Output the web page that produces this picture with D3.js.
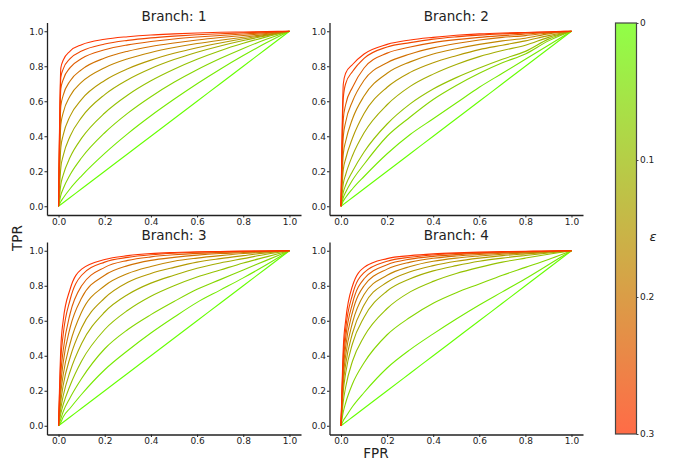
<!DOCTYPE html>
<html>
<head>
<meta charset="utf-8">
<script src="https://cdn.jsdelivr.net/npm/d3@7"></script>
<style>
  body { margin: 0; background: #fff; }
  svg text { font-family: "DejaVu Sans", sans-serif; fill: #222; }
</style>
</head>
<body>
<div id="chart"></div>
<script>
const width = 675;
const height = 461;

// false positive rate grid shared by every curve
const fpr = [0, 0.01, 0.02, 0.05, 0.1, 0.2, 0.3, 0.4, 0.5, 0.6, 0.7, 0.8, 0.9, 1];
const epsilons = [0, 0.03, 0.06, 0.09, 0.12, 0.15, 0.18, 0.21, 0.24, 0.27, 0.3];
const xTicks = [0, 0.2, 0.4, 0.6, 0.8, 1.0];
const yTicks = [0, 0.2, 0.4, 0.6, 0.8, 1.0];
const epsTicks = [0, 0.1, 0.2, 0.3];
const epsTickLabels = ["0", "0.1", "0.2", "0.3"];
const branchNames = ["1", "2", "3", "4"];

// TPR per epsilon (rows) at each fpr point
const branch1 = [
  [0, 0.01, 0.02, 0.05, 0.1, 0.2, 0.3, 0.4, 0.5, 0.6, 0.7, 0.8, 0.9, 1],
  [0, 0.027, 0.047, 0.10, 0.174, 0.302, 0.415, 0.517, 0.611, 0.70, 0.783, 0.861, 0.934, 1],
  [0, 0.064, 0.10, 0.18, 0.277, 0.42, 0.532, 0.626, 0.708, 0.78, 0.844, 0.902, 0.954, 1],
  [0, 0.125, 0.178, 0.28, 0.389, 0.533, 0.636, 0.717, 0.783, 0.84, 0.889, 0.931, 0.968, 1],
  [0, 0.222, 0.288, 0.40, 0.508, 0.638, 0.723, 0.787, 0.838, 0.88, 0.916, 0.947, 0.974, 1],
  [0, 0.337, 0.406, 0.515, 0.611, 0.719, 0.786, 0.835, 0.874, 0.906, 0.933, 0.957, 0.978, 1],
  [0, 0.468, 0.533, 0.63, 0.709, 0.792, 0.843, 0.879, 0.907, 0.93, 0.949, 0.966, 0.982, 1],
  [0, 0.573, 0.633, 0.716, 0.781, 0.847, 0.886, 0.913, 0.933, 0.95, 0.964, 0.976, 0.987, 1],
  [0, 0.672, 0.723, 0.792, 0.844, 0.894, 0.922, 0.941, 0.956, 0.967, 0.976, 0.984, 0.992, 1],
  [0, 0.738, 0.784, 0.844, 0.887, 0.927, 0.948, 0.962, 0.972, 0.98, 0.986, 0.991, 0.996, 1],
  [0, 0.791, 0.834, 0.887, 0.923, 0.954, 0.969, 0.979, 0.985, 0.99, 0.994, 0.996, 0.998, 1]
];
const branch2 = [
  [0, 0.01, 0.02, 0.05, 0.1, 0.2, 0.3, 0.4, 0.5, 0.6, 0.7, 0.8, 0.9, 1],
  [0, 0.03, 0.05, 0.10, 0.17, 0.30, 0.41, 0.50, 0.59, 0.68, 0.76, 0.84, 0.92, 1],
  [0, 0.05, 0.08, 0.15, 0.24, 0.40, 0.51, 0.61, 0.69, 0.76, 0.82, 0.87, 0.945, 1],
  [0, 0.08, 0.12, 0.20, 0.31, 0.47, 0.585, 0.67, 0.735, 0.79, 0.84, 0.885, 0.955, 1],
  [0, 0.13, 0.18, 0.29, 0.42, 0.58, 0.685, 0.755, 0.81, 0.855, 0.89, 0.92, 0.965, 1],
  [0, 0.21, 0.27, 0.39, 0.53, 0.68, 0.765, 0.82, 0.86, 0.895, 0.92, 0.945, 0.975, 1],
  [0, 0.30, 0.37, 0.50, 0.63, 0.76, 0.825, 0.87, 0.90, 0.925, 0.945, 0.96, 0.985, 1],
  [0, 0.40, 0.48, 0.60, 0.72, 0.82, 0.87, 0.905, 0.93, 0.95, 0.965, 0.975, 0.99, 1],
  [0, 0.50, 0.58, 0.68, 0.79, 0.875, 0.91, 0.935, 0.952, 0.965, 0.975, 0.984, 0.993, 1],
  [0, 0.62, 0.70, 0.77, 0.845, 0.91, 0.935, 0.955, 0.968, 0.978, 0.985, 0.99, 0.996, 1],
  [0, 0.70, 0.76, 0.81, 0.87, 0.925, 0.95, 0.965, 0.977, 0.985, 0.99, 0.993, 0.997, 1]
];
const branch3 = [
  [0, 0.01, 0.02, 0.05, 0.1, 0.2, 0.3, 0.4, 0.5, 0.6, 0.7, 0.8, 0.9, 1],
  [0, 0.02, 0.05, 0.10, 0.18, 0.32, 0.43, 0.53, 0.62, 0.705, 0.775, 0.845, 0.92, 1],
  [0, 0.04, 0.08, 0.16, 0.27, 0.44, 0.55, 0.635, 0.71, 0.78, 0.835, 0.89, 0.945, 1],
  [0, 0.07, 0.12, 0.23, 0.37, 0.55, 0.66, 0.74, 0.80, 0.85, 0.89, 0.93, 0.965, 1],
  [0, 0.10, 0.17, 0.31, 0.47, 0.65, 0.75, 0.815, 0.86, 0.90, 0.93, 0.955, 0.98, 1],
  [0, 0.14, 0.23, 0.39, 0.56, 0.73, 0.82, 0.87, 0.905, 0.935, 0.955, 0.972, 0.988, 1],
  [0, 0.19, 0.29, 0.47, 0.65, 0.80, 0.87, 0.91, 0.94, 0.958, 0.972, 0.984, 0.993, 1],
  [0, 0.24, 0.36, 0.56, 0.73, 0.86, 0.915, 0.945, 0.962, 0.975, 0.984, 0.99, 0.996, 1],
  [0, 0.30, 0.43, 0.64, 0.80, 0.905, 0.945, 0.965, 0.977, 0.985, 0.99, 0.994, 0.998, 1],
  [0, 0.38, 0.52, 0.72, 0.86, 0.935, 0.962, 0.977, 0.986, 0.991, 0.994, 0.997, 0.999, 1],
  [0, 0.45, 0.60, 0.78, 0.895, 0.95, 0.972, 0.984, 0.99, 0.994, 0.996, 0.998, 0.999, 1]
];
const branch4 = [
  [0, 0.01, 0.02, 0.05, 0.1, 0.2, 0.3, 0.4, 0.5, 0.6, 0.7, 0.8, 0.9, 1],
  [0, 0.03, 0.05, 0.11, 0.19, 0.33, 0.435, 0.525, 0.61, 0.69, 0.765, 0.84, 0.92, 1],
  [0, 0.08, 0.13, 0.24, 0.36, 0.52, 0.62, 0.70, 0.76, 0.81, 0.86, 0.905, 0.95, 1],
  [0, 0.14, 0.22, 0.37, 0.51, 0.67, 0.765, 0.825, 0.87, 0.905, 0.935, 0.958, 0.98, 1],
  [0, 0.20, 0.30, 0.47, 0.62, 0.77, 0.84, 0.885, 0.915, 0.94, 0.958, 0.973, 0.987, 1],
  [0, 0.24, 0.35, 0.53, 0.69, 0.82, 0.88, 0.915, 0.94, 0.958, 0.972, 0.982, 0.991, 1],
  [0, 0.28, 0.40, 0.59, 0.75, 0.86, 0.91, 0.94, 0.958, 0.97, 0.98, 0.988, 0.994, 1],
  [0, 0.32, 0.45, 0.65, 0.80, 0.895, 0.935, 0.957, 0.97, 0.979, 0.986, 0.992, 0.996, 1],
  [0, 0.36, 0.50, 0.70, 0.84, 0.92, 0.952, 0.968, 0.978, 0.985, 0.99, 0.994, 0.997, 1],
  [0, 0.40, 0.55, 0.75, 0.875, 0.94, 0.963, 0.976, 0.984, 0.989, 0.993, 0.996, 0.998, 1],
  [0, 0.45, 0.60, 0.80, 0.905, 0.955, 0.972, 0.982, 0.988, 0.992, 0.995, 0.997, 0.999, 1]
];
const branches = [branch1, branch2, branch3, branch4];

const svg = d3.select("#chart").append("svg")
    .attr("width", width)
    .attr("height", height);

// panel boxes (axes area incl. matplotlib margins)
const panels = [
  {left: 47, right: 301, top: 22.5, bottom: 215},
  {left: 329.5, right: 583, top: 22.5, bottom: 215},
  {left: 47, right: 301, top: 242, bottom: 434.5},
  {left: 329.5, right: 583, top: 242, bottom: 434.5}
];

const lineColor = d3.scaleLinear().domain([0, 0.3]).range(["#66ff00", "#ff3300"]);

panels.forEach((p, i) => {
    const x = d3.scaleLinear().domain([-0.05, 1.05]).range([p.left, p.right]);
    const y = d3.scaleLinear().domain([-0.05, 1.05]).range([p.bottom, p.top]);
    const g = svg.append("g").attr("class", "panel");

    const line = d3.line()
        .x((d, j) => x(fpr[j]))
        .y(d => y(d))
        .curve(d3.curveMonotoneX);

    g.selectAll("path.roc").data(branches[i])
        .join("path")
        .attr("class", "roc")
        .attr("d", line)
        .attr("fill", "none")
        .attr("stroke", (d, k) => lineColor(epsilons[k]))
        .attr("stroke-width", 1.1);

    const xAxis = d3.axisBottom(x).tickValues(xTicks).tickFormat(d3.format(".1f"))
        .tickSize(2.5).tickSizeOuter(0).tickPadding(1);
    const yAxis = d3.axisLeft(y).tickValues(yTicks).tickFormat(d3.format(".1f"))
        .tickSize(2.5).tickSizeOuter(0).tickPadding(1);

    [g.append("g").attr("transform", `translate(0,${p.bottom})`).call(xAxis),
     g.append("g").attr("transform", `translate(${p.left},0)`).call(yAxis)]
        .forEach(a => {
            a.select(".domain").attr("stroke", "#222").attr("stroke-width", 1.3);
            a.selectAll(".tick line").attr("stroke", "#222");
            a.selectAll(".tick text").style("font-size", "9px").attr("fill", "#222");
        });

    g.append("text")
        .attr("x", (p.left + p.right) / 2)
        .attr("y", p.top - 2)
        .attr("text-anchor", "middle")
        .style("font-size", "13.5px")
        .text("Branch: " + branchNames[i]);
});

svg.append("text")
    .attr("transform", "translate(22,238) rotate(-90)")
    .attr("text-anchor", "middle")
    .style("font-size", "13.5px")
    .text("TPR");

svg.append("text")
    .attr("x", 376)
    .attr("y", 458)
    .attr("text-anchor", "middle")
    .style("font-size", "13.5px")
    .text("FPR");

// colorbar
const cb = {left: 615.5, width: 21, top: 23, bottom: 434};
const epsScale = d3.scaleLinear().domain([0, 0.3]).range([cb.top, cb.bottom]);

const grad = svg.append("defs").append("linearGradient")
    .attr("id", "epsgrad")
    .attr("x1", 0).attr("x2", 0).attr("y1", 0).attr("y2", 1);
grad.selectAll("stop").data(epsilons)
    .join("stop")
    .attr("offset", d => (epsScale(d) - cb.top) / (cb.bottom - cb.top))
    .attr("stop-color", d => lineColor(d));

svg.append("rect")
    .attr("x", cb.left)
    .attr("y", cb.top)
    .attr("width", cb.width)
    .attr("height", cb.bottom - cb.top)
    .attr("fill", "url(#epsgrad)")
    .attr("fill-opacity", 0.72);

svg.append("rect")
    .attr("x", cb.left)
    .attr("y", cb.top)
    .attr("width", cb.width)
    .attr("height", cb.bottom - cb.top)
    .attr("fill", "none")
    .attr("stroke", "#444")
    .attr("stroke-width", 1.2);

const cbAxis = d3.axisRight(epsScale).tickValues(epsTicks)
    .tickFormat((d, k) => epsTickLabels[k])
    .tickSize(2).tickSizeOuter(0).tickPadding(1.5);
const cbg = svg.append("g")
    .attr("transform", `translate(${cb.left + cb.width},0)`)
    .call(cbAxis);
cbg.select(".domain").remove();
cbg.selectAll(".tick line").attr("stroke", "#444");
cbg.selectAll(".tick text").style("font-size", "9px").attr("fill", "#222");

svg.append("text")
    .attr("x", 653)
    .attr("y", 241)
    .attr("text-anchor", "middle")
    .style("font-size", "13px")
    .style("font-style", "italic")
    .text("ε");
</script>
</body>
</html>
